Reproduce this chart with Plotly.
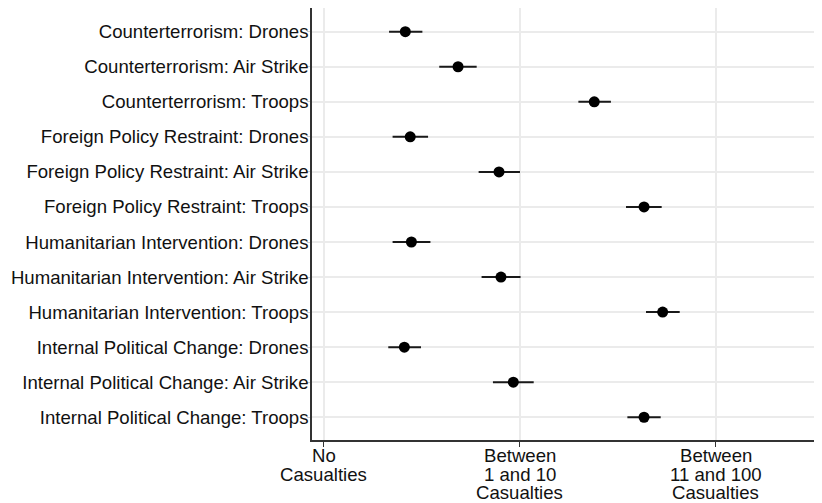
import plotly.graph_objects as go

categories = [
    "Counterterrorism: Drones",
    "Counterterrorism: Air Strike",
    "Counterterrorism: Troops",
    "Foreign Policy Restraint: Drones",
    "Foreign Policy Restraint: Air Strike",
    "Foreign Policy Restraint: Troops",
    "Humanitarian Intervention: Drones",
    "Humanitarian Intervention: Air Strike",
    "Humanitarian Intervention: Troops",
    "Internal Political Change: Drones",
    "Internal Political Change: Air Strike",
    "Internal Political Change: Troops",
]
estimate = [1.415, 1.684, 2.379, 1.440, 1.893, 2.633, 1.446, 1.903, 2.728, 1.410, 1.966, 2.633]
ci_low   = [1.332, 1.588, 2.298, 1.350, 1.789, 2.541, 1.350, 1.804, 2.643, 1.328, 1.862, 2.548]
ci_high  = [1.502, 1.779, 2.464, 1.531, 2.000, 2.723, 1.543, 2.003, 2.815, 1.495, 2.070, 2.718]

tick_vals = [1, 2, 3]
tick_labels = ["No\nCasualties", "Between\n1 and 10\nCasualties", "Between\n11 and 100\nCasualties"]

FONT = "Liberation Sans, Arial, Helvetica, sans-serif"
FS = 18.6

fig = go.Figure()
fig.add_trace(go.Scatter(
    x=estimate,
    y=categories,
    mode="markers",
    marker=dict(color="black", size=11),
    error_x=dict(
        type="data",
        symmetric=False,
        array=[h - e for h, e in zip(ci_high, estimate)],
        arrayminus=[e - l for e, l in zip(estimate, ci_low)],
        color="#1a1a1a",
        thickness=2,
        width=0,
    ),
    showlegend=False,
))

# x tick labels, one annotation per line to match the tight line spacing
line_shifts = [-15.3, -34.3, -52.9]
for v, lab in zip(tick_vals, tick_labels):
    for j, line in enumerate(lab.split("\n")):
        fig.add_annotation(
            x=v, xref="x", y=0, yref="paper",
            text=line, showarrow=False,
            xanchor="center", yanchor="middle",
            yshift=line_shifts[j],
            font=dict(family=FONT, size=FS, color="#111111"),
        )

fig.update_layout(
    width=814, height=495,
    margin=dict(l=304, r=0, t=0, b=63, autoexpand=False),
    paper_bgcolor="white",
    plot_bgcolor="white",
    font=dict(family=FONT, size=FS, color="#111111"),
    xaxis=dict(
        range=[0.9388, 3.541],
        tickvals=tick_vals,
        showticklabels=False,
        ticks="outside", ticklen=5, tickwidth=1, tickcolor="#333333",
        showgrid=True, gridcolor="#ebebeb", gridwidth=1.5,
        zeroline=False, automargin=False,
        showline=True, linecolor="#333333", linewidth=1.5,
    ),
    yaxis=dict(
        type="category",
        categoryorder="array", categoryarray=categories,
        range=[11.649, -0.676],
        ticks="outside", ticklen=3, tickwidth=1, tickcolor="#cccccc",
        ticklabelstandoff=-5,
        showgrid=True, gridcolor="#ebebeb", gridwidth=1.5,
        zeroline=False, automargin=False,
        showline=True, linecolor="#333333", linewidth=1.5,
        tickfont=dict(family=FONT, size=FS, color="#111111"),
    ),
)

fig.write_html("out.html")
